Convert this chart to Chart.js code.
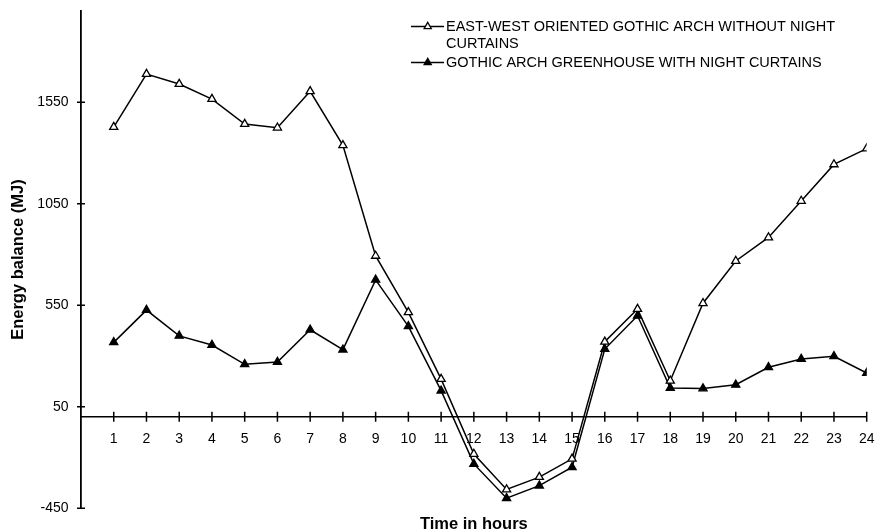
<!DOCTYPE html>
<html>
<head>
<meta charset="utf-8">
<script src="https://cdn.jsdelivr.net/npm/chart.js@4.4.1/dist/chart.umd.min.js"></script>
<style>
  html, body { margin: 0; padding: 0; background: #fff; }
  #wrap { width: 876px; height: 532px; position: relative; }
</style>
</head>
<body>
<div id="wrap"><canvas id="c"></canvas></div>
<script>
// ---- data ----
const hours = [1,2,3,4,5,6,7,8,9,10,11,12,13,14,15,16,17,18,19,20,21,22,23,24];
const withoutCurtains = [1428,1689,1640,1566,1443,1425,1604,1338,793,515,186,-183,-358,-297,-207,370,531,178,560,768,884,1064,1244,1322];
const withCurtains = [367,526,399,354,259,270,429,331,675,446,129,-232,-401,-339,-248,334,498,142,140,158,244,285,298,216];
const yTickValues = [-450, 50, 550, 1050, 1550];
const labelWithout = ["EAST-WEST ORIENTED GOTHIC ARCH WITHOUT NIGHT", "CURTAINS"];
const labelWith = ["GOTHIC ARCH GREENHOUSE WITH NIGHT CURTAINS"];
const xTitle = "Time in hours";
const yTitle = "Energy balance (MJ)";

const FONT = "'Liberation Sans', Arial, Helvetica, sans-serif";

const toPoints = (vals) => hours.map((h, i) => ({ x: h, y: vals[i] }));

const crossTicks = {
  id: 'crossTicks',
  afterDraw(chart) {
    const ctx = chart.ctx;
    const xs = chart.scales.x, ys = chart.scales.y;
    const y0 = ys.getPixelForValue(0);
    ctx.save();
    ctx.strokeStyle = '#000';
    ctx.lineWidth = 1.5;
    ctx.beginPath();
    hours.forEach(h => {
      const px = xs.getPixelForValue(h);
      ctx.moveTo(px, y0 - 5);
      ctx.lineTo(px, y0 + 5);
    });
    yTickValues.forEach(v => {
      const py = ys.getPixelForValue(v);
      ctx.moveTo(xs.left - 4, py);
      ctx.lineTo(xs.left + 4, py);
    });
    ctx.stroke();
    ctx.restore();
  }
};

const customLegend = {
  id: 'customLegend',
  afterDraw(chart) {
    const ctx = chart.ctx;
    const rows = [
      { ds: chart.data.datasets[0], lines: labelWithout, y: 26.5 },
      { ds: chart.data.datasets[1], lines: labelWith, y: 62.5 }
    ];
    ctx.save();
    ctx.font = "14.5px " + FONT;
    ctx.fillStyle = '#000';
    ctx.textBaseline = 'middle';
    rows.forEach(r => {
      ctx.strokeStyle = '#000';
      ctx.lineWidth = 1.4;
      ctx.beginPath();
      ctx.moveTo(411, r.y);
      ctx.lineTo(444, r.y);
      ctx.stroke();
      ctx.fillStyle = r.ds.pointBackgroundColor;
      ctx.strokeStyle = '#000';
      ctx.lineWidth = r.ds.pointBorderWidth;
      Chart.helpers.drawPoint(ctx, { pointStyle: 'triangle', radius: r.ds.pointRadius - 0.6, borderWidth: r.ds.pointBorderWidth, rotation: 0 }, 427.7, r.y);
      ctx.fillStyle = '#000';
      r.lines.forEach((t, i) => ctx.fillText(t, 446, r.y + i * 17.5));
    });
    ctx.restore();
  }
};

new Chart(document.getElementById('c'), {
  type: 'line',
  data: {
    datasets: [
      {
        label: labelWithout.join(' '),
        data: toPoints(withoutCurtains),
        borderColor: '#000',
        borderWidth: 1.5,
        pointStyle: 'triangle',
        pointRadius: 4.7,
        pointBorderWidth: 1.3,
        pointBackgroundColor: '#fff',
        pointBorderColor: '#000',
        tension: 0,
        fill: false
      },
      {
        label: labelWith.join(' '),
        data: toPoints(withCurtains),
        borderColor: '#000',
        borderWidth: 1.5,
        pointStyle: 'triangle',
        pointRadius: 4.7,
        pointBorderWidth: 1.3,
        pointBackgroundColor: '#000',
        pointBorderColor: '#000',
        tension: 0,
        fill: false
      }
    ]
  },
  options: {
    responsive: true,
    maintainAspectRatio: false,
    animation: false,
    layout: { padding: { left: 0, right: 9.3, top: 11, bottom: 0 } },
    plugins: {
      legend: { display: false },
      tooltip: { enabled: false },
      title: {
        display: true,
        text: xTitle,
        position: 'bottom',
        fullSize: false,
        color: '#000',
        font: { family: FONT, size: 16.5, weight: 'bold', lineHeight: 0.9 },
        padding: { top: 9, bottom: 0 }
      }
    },
    scales: {
      x: {
        type: 'linear',
        min: 0,
        max: 24,
        position: { y: 0 },
        afterBuildTicks: (s) => { s.ticks = hours.map(v => ({ value: v })); },
        afterFit: (s) => { s.height = 0; s.paddingLeft = 0; s.paddingRight = 0; },
        grid: { display: false },
        border: { display: true, color: '#000', width: 1.6 },
        ticks: {
          color: '#000',
          font: { family: FONT, size: 14 },
          padding: 6,
          maxRotation: 0,
          autoSkip: false,
          callback: (v) => String(v)
        }
      },
      y: {
        type: 'linear',
        min: -450,
        max: 2000,
        position: 'left',
        afterBuildTicks: (s) => { s.ticks = yTickValues.map(v => ({ value: v })); },
        afterFit: (s) => { s.width = 81; s.paddingTop = 0; s.paddingBottom = 0; },
        grid: { display: false },
        border: { display: true, color: '#000', width: 1.8 },
        ticks: {
          color: '#000',
          font: { family: FONT, size: 14 },
          padding: 4.5,
          autoSkip: false,
          callback: (v) => String(v)
        },
        title: {
          display: true,
          text: yTitle,
          color: '#000',
          font: { family: FONT, size: 16.5, weight: 'bold', lineHeight: 1.2 },
          padding: { top: 9, bottom: 0 }
        }
      }
    }
  },
  plugins: [crossTicks, customLegend]
});
</script>
</body>
</html>
